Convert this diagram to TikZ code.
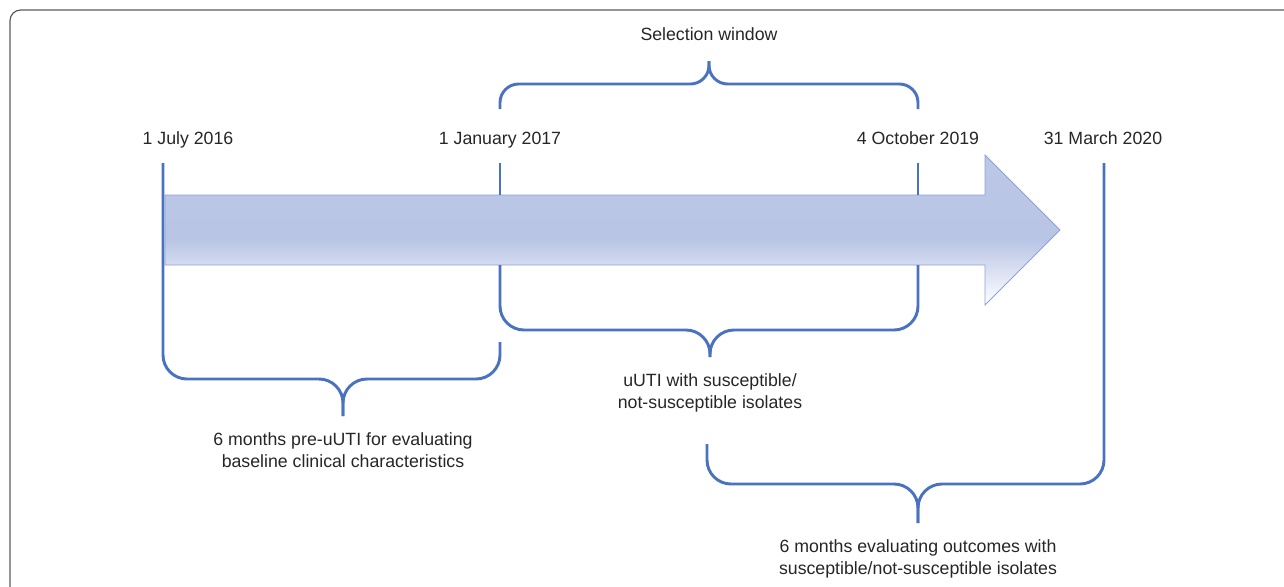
\documentclass[tikz,border=0pt]{standalone}
\usepackage{fontspec}
\setmainfont{Liberation Sans}
\usetikzlibrary{positioning}
\definecolor{braceblue}{HTML}{4A72C0}
\definecolor{arrowedge}{HTML}{8EA2D8}
\definecolor{arrowtop}{HTML}{BCC7E6}
\definecolor{arrowmid}{HTML}{B9C5E5}
\definecolor{framegray}{HTML}{5A5A5A}
\pgfdeclareverticalshading{arrowfade}{100bp}{color(0bp)=(white); color(25bp)=(white); color(46.7bp)=(arrowmid); color(75bp)=(arrowtop); color(100bp)=(arrowtop)}

\begin{document}
\begin{tikzpicture}[
				x=0.75pt,y=-0.75pt,
				txt/.style={font=\fontsize{13.3}{16.5}\selectfont,text=black!85,inner sep=0pt,align=center},
				datelbl/.style={txt,anchor=base},
				brace/.style={draw=braceblue,line width=2.2pt,rounded corners=18pt},
				smallbrace/.style={brace,rounded corners=14pt},
				bigarrow/.style={draw=arrowedge,line width=0.7pt,shading=arrowfade}
				]
				\clip (0,0) rectangle (1284,586);
				
				% Cornice
				\draw[framegray,line width=0.9pt,rounded corners=8pt] (10,640) -- (10,10) -- (1340,10);
				
				% Date
				\node[datelbl] (d2016) at (188,144) {1 July 2016};
				\node[datelbl] (d2017) at (500,144) {1 January 2017};
				\node[datelbl] (d2019) at (918,144) {4 October 2019};
				\node[datelbl] (d2020) at (1103,144) {31 March 2020};
				
				% Punte delle graffe
				\coordinate (seltip) at (709,61);
				\coordinate (pretip) at (343,416);
				\coordinate (utitip) at (710,357);
				\coordinate (posttip) at (918,523);
				
				% Finestra di selezione
				\draw[smallbrace] (500,109) -- (500,84) -- (709,84) -- (seltip);
				\draw[smallbrace] (918,109) -- (918,84) -- (709,84) -- (seltip);
				\node[txt,above=15pt of seltip] (selwin) {Selection window};
				
				% Freccia del tempo
				\path[bigarrow] (165,195) -- (985,195) -- (985,155) -- (1060,230)
				-- (985,305) -- (985,265) -- (165,265) -- cycle;
				
				% 6 mesi pre-uUTI
				\draw[brace] (163,163) -- (163,379) -- (343,379) -- (pretip);
				\draw[brace] (500,342) -- (500,379) -- (343,379) -- (pretip);
				\node[txt,below=12pt of pretip] (prenote) {6 months pre-uUTI for evaluating\\baseline clinical characteristics};
				
				% uUTI
				\draw[brace] (500,265) -- (500,330) -- (710,330) -- (utitip);
				\draw[brace] (918,265) -- (918,330) -- (710,330) -- (utitip);
				\draw[brace] (500,163) -- (500,195) (918,163) -- (918,195);
				\node[txt,below=12pt of utitip] (utinote) {uUTI with susceptible/\\not-susceptible isolates};
				
				% 6 mesi esiti
				\draw[brace] (707,444) -- (707,484) -- (918,484) -- (posttip);
				\draw[brace] (1104,163) -- (1104,484) -- (918,484) -- (posttip);
				\node[txt,below=12pt of posttip] (postnote) {6 months evaluating outcomes with\\susceptible/not-susceptible isolates};
				
\end{tikzpicture}
\end{document}
